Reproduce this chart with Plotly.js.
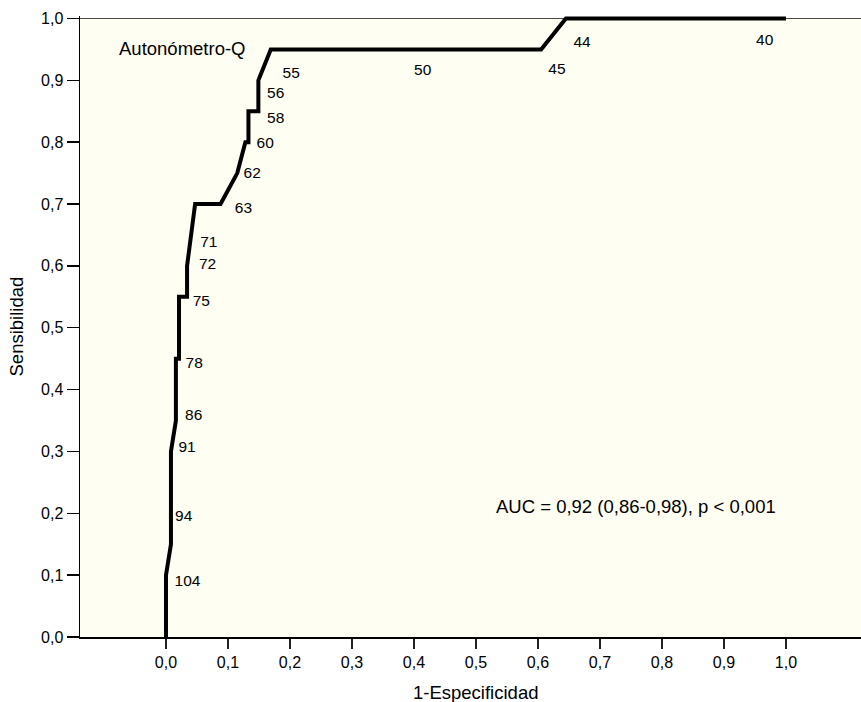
<!DOCTYPE html>
<html>
<head>
<meta charset="utf-8">
<script src="https://cdn.plot.ly/plotly-3.0.1.min.js"></script>
<style>html,body{margin:0;padding:0;background:#fff;}#chart{width:861px;height:702px;}</style>
</head>
<body>
<div id="chart"></div>
<script>
// ROC curve (1-specificity, sensitivity)
var fpr = [0, 0, 0.008, 0.008, 0.016, 0.016, 0.021, 0.021, 0.034, 0.034, 0.047, 0.088, 0.115, 0.128, 0.133, 0.133, 0.149, 0.149, 0.169, 0.605, 0.645, 1.0];
var sens = [0, 0.10, 0.15, 0.30, 0.35, 0.45, 0.45, 0.55, 0.55, 0.60, 0.70, 0.70, 0.75, 0.80, 0.80, 0.85, 0.85, 0.90, 0.95, 0.95, 1.0, 1.0];

// cut-off labels
var cutLabels = ["104", "94", "91", "86", "78", "75", "72", "71", "63", "62", "60", "58", "56", "55", "50", "45", "44", "40"];
var cutX = [0.0347, 0.0285, 0.0339, 0.0447, 0.0455, 0.057, 0.067, 0.069, 0.125, 0.139, 0.160, 0.177, 0.177, 0.202, 0.414, 0.6306, 0.671, 0.9656];
var cutY = [0.0893, 0.1934, 0.3048, 0.357, 0.4405, 0.5417, 0.601, 0.637, 0.691, 0.748, 0.7965, 0.838, 0.877, 0.9095, 0.915, 0.916, 0.9601, 0.9628];

var tickVals = [0, 0.1, 0.2, 0.3, 0.4, 0.5, 0.6, 0.7, 0.8, 0.9, 1.0];
var tickText = ["0,0", "0,1", "0,2", "0,3", "0,4", "0,5", "0,6", "0,7", "0,8", "0,9", "1,0"];

var seriesName = "Autonómetro-Q";
var aucText = "AUC = 0,92 (0,86-0,98), p < 0,001";
var xTitle = "1-Especificidad";
var yTitle = "Sensibilidad";

var FONT = "Liberation Sans, Arial, Helvetica, sans-serif";

var traces = [
  {
    x: fpr, y: sens, type: "scatter", mode: "lines",
    line: {color: "#000", width: 4, shape: "linear"},
    hoverinfo: "skip", showlegend: false
  },
  {
    x: cutX, y: cutY, type: "scatter", mode: "text",
    text: cutLabels, textposition: "middle center",
    textfont: {family: FONT, size: 15.5, color: "#000"},
    cliponaxis: false, hoverinfo: "skip", showlegend: false
  }
];

var layout = {
  width: 861, height: 702,
  margin: {l: 80, r: 0, t: 16, b: 65, pad: 0},
  paper_bgcolor: "#ffffff",
  plot_bgcolor: "#fefef2",
  font: {family: FONT, size: 16, color: "#000"},
  showlegend: false,
  xaxis: {
    range: [-0.1387, 1.121],
    tickmode: "array", tickvals: tickVals, ticktext: tickText,
    ticks: "outside", ticklen: 10, tickwidth: 1.5, tickcolor: "#222",
    showline: true, linecolor: "#000", linewidth: 1.5, mirror: false,
    showgrid: false, zeroline: false,
    tickfont: {family: FONT, size: 16, color: "#000"},
    ticklabelstandoff: 0
  },
  yaxis: {
    range: [0, 1.004],
    tickmode: "array", tickvals: tickVals, ticktext: tickText,
    ticks: "outside", ticklen: 12, tickwidth: 1.5, tickcolor: "#000",
    showline: true, linecolor: "#000", linewidth: 1.5, mirror: false,
    showgrid: false, zeroline: false,
    tickfont: {family: FONT, size: 16, color: "#000"},
    ticklabelstandoff: 0
  },
  shapes: [
    {type: "line", xref: "paper", yref: "y", x0: 0, x1: 1, y0: 1, y1: 1,
     line: {color: "#444", width: 1}, layer: "below"},
    {type: "rect", xref: "paper", yref: "paper", x0: 0, x1: 1, y0: 0.9969, y1: 1.001,
     fillcolor: "#ffffff", line: {width: 0}, layer: "below"}
  ],
  annotations: [
    {text: seriesName, x: 0.026, y: 0.9515, xref: "x", yref: "y", showarrow: false,
     xanchor: "center", yanchor: "middle", font: {family: FONT, size: 18.5, color: "#000"}},
    {text: aucText, x: 0.758, y: 0.2116, xref: "x", yref: "y", showarrow: false,
     xanchor: "center", yanchor: "middle", font: {family: FONT, size: 18.5, color: "#000"}},
    {text: xTitle, x: 0.5, y: -0.0889, xref: "x", yref: "paper", showarrow: false,
     xanchor: "center", yanchor: "middle", font: {family: FONT, size: 18.5, color: "#000"}},
    {text: yTitle, x: -0.0807, y: 0.5, xref: "paper", yref: "paper", showarrow: false,
     textangle: -90, xanchor: "center", yanchor: "middle", font: {family: FONT, size: 18.5, color: "#000"}}
  ]
};

Plotly.newPlot("chart", traces, layout, {displayModeBar: false, staticPlot: true});
</script>
</body>
</html>
